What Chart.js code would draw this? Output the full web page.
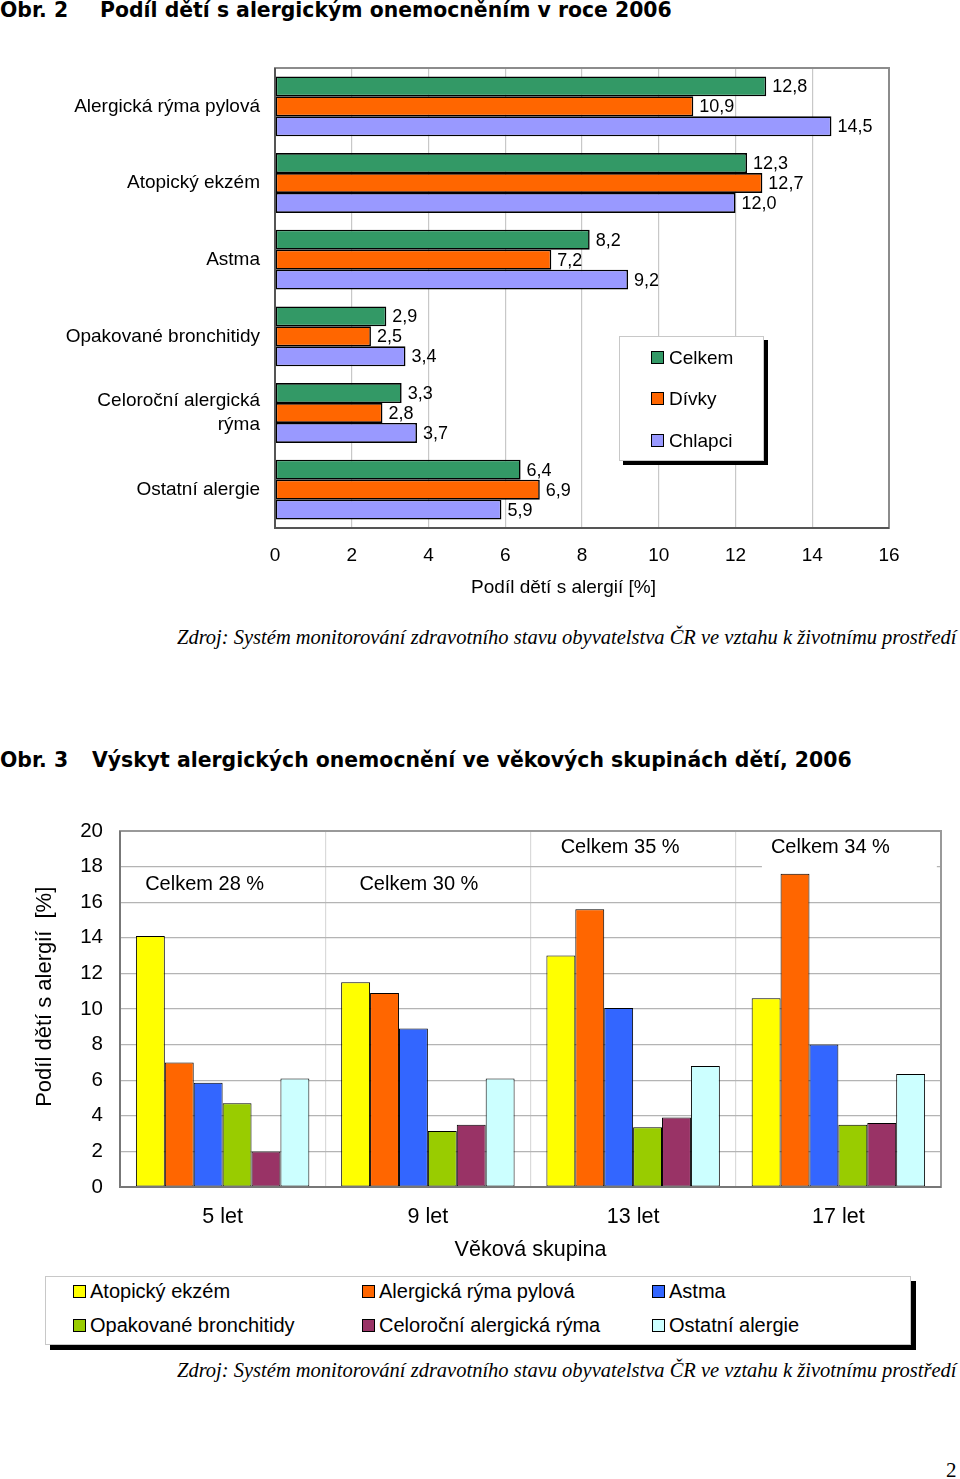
<!DOCTYPE html>
<html>
<head>
<meta charset="utf-8">
<script src="https://cdn.jsdelivr.net/npm/chart.js@4/dist/chart.umd.min.js"></script>
<style>
  html, body { margin: 0; padding: 0; background: #fff; }
  body { width: 960px; height: 1479px; position: relative; overflow: hidden; font-family: 'Liberation Sans', Arial, sans-serif; }
  .title { position: absolute; font-family: 'DejaVu Sans', Verdana, sans-serif; font-weight: bold; font-size: 20.4px; line-height: 22px; white-space: nowrap; color: #000; }
  .src { position: absolute; font-family: 'Liberation Serif', 'Times New Roman', serif; font-style: italic; font-size: 20.5px; line-height: 22px; white-space: nowrap; color: #000; }
  .pg { position: absolute; font-family: 'Liberation Serif', 'Times New Roman', serif; font-size: 21px; line-height: 22px; color: #000; }
  canvas { position: absolute; left: 0; }
  .legend { position: absolute; background: #fff; border: 1px solid #c8c8c8; box-shadow: 5px 5px 0 #000; box-sizing: border-box; }
  .li { position: absolute; white-space: nowrap; color: #000; }
  .sw { position: absolute; width: 11px; height: 11px; border: 1px solid #000; }
</style>
</head>
<body>
<div class="title" style="left:0;top:-1px;">Obr. 2</div>
<div class="title" style="left:100px;top:-1px;">Podíl dětí s alergickým onemocněním v roce 2006</div>

<canvas id="c1" width="960" height="560" style="top:40px;width:960px;height:560px;"></canvas>
<div id="leg1" class="legend" style="left:619px;top:336px;width:145px;height:125px;box-shadow:4px 4px 0 #000;"></div>

<div class="src" style="left:177px;top:626px;">Zdroj: Systém monitorování zdravotního stavu obyvatelstva ČR ve vztahu k životnímu prostředí</div>

<div class="title" style="left:0;top:749px;">Obr. 3</div>
<div class="title" style="left:92px;top:749px;">Výskyt alergických onemocnění ve věkových skupinách dětí, 2006</div>

<canvas id="c2" width="960" height="470" style="top:800px;width:960px;height:470px;"></canvas>
<div id="leg2" class="legend" style="left:45px;top:1276px;width:866px;height:69px;"></div>

<div class="src" style="left:177px;top:1359px;">Zdroj: Systém monitorování zdravotního stavu obyvatelstva ČR ve vztahu k životnímu prostředí</div>
<div class="pg" style="left:946px;top:1459px;">2</div>

<script>
// ---------- Data: Obr. 2 ----------
const diseases = ['Alergická rýma pylová', 'Atopický ekzém', 'Astma', 'Opakované bronchitidy', ['Celoroční alergická', 'rýma'], 'Ostatní alergie'];
const celkem  = [12.8, 12.3, 8.2, 2.9, 3.3, 6.4];
const divky   = [10.9, 12.7, 7.2, 2.5, 2.8, 6.9];
const chlapci = [14.5, 12.0, 9.2, 3.4, 3.7, 5.9];
const sexNames = ['Celkem', 'Dívky', 'Chlapci'];
const axis1Title = 'Podíl dětí s alergií [%]';

// ---------- Data: Obr. 3 ----------
const ageGroups = ['5 let', '9 let', '13 let', '17 let'];
const atopickyEkzem    = [14.1, 11.5, 13.0, 10.6];
const alergRymaPylova  = [7.0, 10.9, 15.6, 17.6];
const astma            = [5.85, 8.9, 10.05, 8.0];
const opakBronchitidy  = [4.7, 3.15, 3.35, 3.5];
const celorocniRyma    = [2.0, 3.5, 3.9, 3.6];
const ostatniAlergie   = [6.1, 6.1, 6.8, 6.35];
const diseaseNames = ['Atopický ekzém', 'Alergická rýma pylová', 'Astma', 'Opakované bronchitidy', 'Celoroční alergická rýma', 'Ostatní alergie'];
const celkemTotals = [28, 30, 35, 34];
const axis2YTitle = 'Podíl dětí s alergií  [%]';
const axis2XTitle = 'Věková skupina';

// ---------- Styles ----------
const FONT = "'Liberation Sans', Arial, sans-serif";
Chart.defaults.font.family = FONT;
Chart.defaults.color = '#000';
const colors1 = ['#339966', '#FF6600', '#9999FF'];
const colors2 = ['#FFFF00', '#FF6600', '#3366FF', '#99CC00', '#993366', '#CCFFFF'];
const NB = '\u00a0';

const fmt = v => v.toFixed(1).replace('.', ',');

const framePlugin = {
  id: 'frame',
  afterDatasetsDraw(chart, args, opts) {
    const a = chart.chartArea, ctx = chart.ctx;
    ctx.save();
    ctx.lineWidth = opts.width || 2;
    ctx.strokeStyle = opts.color || '#888';
    ctx.strokeRect(a.left, a.top, a.right - a.left, a.bottom - a.top);
    if (opts.axisColor) {
      ctx.strokeStyle = opts.axisColor;
      ctx.beginPath();
      ctx.moveTo(a.left, a.top); ctx.lineTo(a.left, a.bottom); ctx.lineTo(a.right, a.bottom);
      ctx.stroke();
    }
    ctx.restore();
  }
};

const valueLabels = {
  id: 'valueLabels',
  afterDatasetsDraw(chart, args, opts) {
    if (!opts.show) return;
    const ctx = chart.ctx;
    ctx.save();
    ctx.font = opts.font;
    ctx.fillStyle = '#000';
    ctx.textAlign = 'left';
    ctx.textBaseline = 'middle';
    chart.data.datasets.forEach((ds, di) => {
      const meta = chart.getDatasetMeta(di);
      meta.data.forEach((el, i) => {
        ctx.fillText(fmt(ds.data[i]), el.x + 6, el.y + 1);
      });
    });
    ctx.restore();
  }
};

const totalsLabels = {
  id: 'totalsLabels',
  afterDatasetsDraw(chart, args, opts) {
    if (!opts.show) return;
    const ctx = chart.ctx;
    const xs = chart.scales.x, ys = chart.scales.y;
    ctx.save();
    ctx.font = opts.font;
    ctx.textAlign = 'center';
    ctx.textBaseline = 'middle';
    celkemTotals.forEach((t, i) => {
      const x = xs.getPixelForValue(i) + opts.dx[i];
      const y = ys.getPixelForValue(opts.yVal[i]);
      const txt = 'Celkem ' + t + ' %';
      if (opts.boxed[i]) {
        const w = ctx.measureText(txt).width + 56;
        ctx.fillStyle = '#fff';
        ctx.fillRect(x - w / 2 + 19, y - 12, w, 36);
      }
      ctx.fillStyle = '#000';
      ctx.fillText(txt, x, y);
    });
    ctx.restore();
  }
};

// ---------- Chart 1 ----------
new Chart(document.getElementById('c1'), {
  type: 'bar',
  data: {
    labels: diseases,
    datasets: [celkem, divky, chlapci].map((d, i) => ({
      label: sexNames[i], data: d, backgroundColor: colors1[i],
      borderColor: '#000', borderWidth: 1.6, borderSkipped: false,
      categoryPercentage: 0.78, barPercentage: 1.0
    }))
  },
  options: {
    indexAxis: 'y',
    responsive: false, animation: false,
    layout: { padding: { left: 0, top: 28, right: 71, bottom: 1 } },
    plugins: {
      legend: { display: false }, tooltip: { enabled: false },
      frame: { color: '#8c8c8c', width: 2, axisColor: '#555' },
      valueLabels: { show: true, font: "18px " + FONT },
      totalsLabels: { show: false }
    },
    scales: {
      x: {
        min: 0, max: 16,
        ticks: { stepSize: 2, font: { size: 19 }, padding: 16, color: '#000' },
        grid: { color: '#c8c8c8', lineWidth: 1.2, drawTicks: false },
        border: { display: false },
        title: { display: true, text: axis1Title + NB.repeat(7), font: { size: 19 }, padding: { top: 4, bottom: 0 }, color: '#000' },
        afterFit: s => { s.height = 71; }
      },
      y: {
        ticks: { font: { size: 19, lineHeight: 1.27 }, padding: 15, color: '#000' },
        grid: { display: false, drawTicks: false },
        border: { display: false },
        afterFit: s => { s.width = 275; }
      }
    }
  },
  plugins: [framePlugin, valueLabels, totalsLabels]
});

// ---------- Chart 2 ----------
new Chart(document.getElementById('c2'), {
  type: 'bar',
  data: {
    labels: ageGroups,
    datasets: [atopickyEkzem, alergRymaPylova, astma, opakBronchitidy, celorocniRyma, ostatniAlergie].map((d, i) => ({
      label: diseaseNames[i], data: d, backgroundColor: colors2[i],
      borderColor: '#000', borderWidth: 1, borderSkipped: false,
      categoryPercentage: 0.845, barPercentage: 1.0
    }))
  },
  options: {
    responsive: false, animation: false,
    layout: { padding: { left: 0, top: 31, right: 19, bottom: 7 } },
    plugins: {
      legend: { display: false }, tooltip: { enabled: false },
      frame: { color: '#999', width: 2, axisColor: '#777' },
      valueLabels: { show: false },
      totalsLabels: { show: true, font: "20px " + FONT, dx: [-18, -9, -13, -8], yVal: [17.0, 17.0, 19.05, 19.05], boxed: [false, false, false, true] }
    },
    scales: {
      x: {
        ticks: { font: { size: 21.5 }, padding: 17, color: '#000' },
        grid: { color: '#dadada', lineWidth: 1.2, drawTicks: false },
        border: { display: false },
        title: { display: true, text: axis2XTitle, font: { size: 21.5 }, padding: { top: 4, bottom: 0 }, color: '#000' },
        afterFit: s => { s.height = 76; }
      },
      y: {
        min: 0, max: 20,
        ticks: { stepSize: 2, font: { size: 20.5 }, padding: 17, color: '#000' },
        grid: { color: '#b4b4b4', lineWidth: 1.2, drawTicks: false },
        border: { display: false },
        title: { display: true, text: NB.repeat(4) + axis2YTitle, font: { size: 22 }, padding: { top: 32, bottom: 0 }, color: '#000' },
        afterFit: s => { s.width = 120; }
      }
    }
  },
  plugins: [framePlugin, valueLabels, totalsLabels]
});

// ---------- HTML legends (built from series names/colours) ----------
const leg1 = document.getElementById('leg1');
sexNames.forEach((n, i) => {
  const top = [21, 62, 104][i];
  leg1.insertAdjacentHTML('beforeend',
    `<div class="sw" style="left:31px;top:${top - 7}px;background:${colors1[i]}"></div>` +
    `<div class="li" style="left:49px;top:${top - 12}px;font-size:19px;line-height:24px;">${n}</div>`);
});
const leg2 = document.getElementById('leg2');
diseaseNames.forEach((n, i) => {
  const col = i % 3, row = Math.floor(i / 3);
  const left = [27, 316, 606][col];
  const top = [14, 48][row];
  leg2.insertAdjacentHTML('beforeend',
    `<div class="sw" style="left:${left}px;top:${top - 6}px;background:${colors2[i]}"></div>` +
    `<div class="li" style="left:${left + 17}px;top:${top - 12}px;font-size:20px;line-height:24px;">${n}</div>`);
});
</script>
</body>
</html>
